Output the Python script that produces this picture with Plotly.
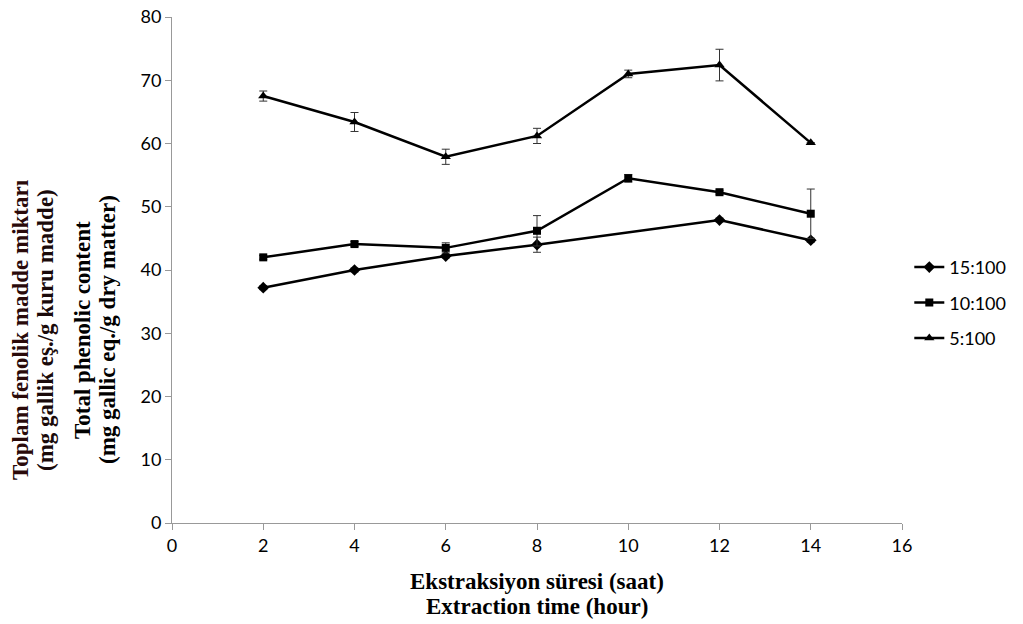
import plotly.graph_objects as go

x_time = [2, 4, 6, 8, 10, 12, 14]

# 15:100 (no point at 10 h)
x_15 = [2, 4, 6, 8, 12, 14]
y_15 = [37.2, 40.0, 42.2, 44.0, 47.9, 44.7]
e_15 = [0.3, 0.3, 0.3, 1.2, 0.3, 0.3]

y_10 = [42.0, 44.1, 43.5, 46.2, 54.5, 52.3, 48.9]
e_10 = [0.3, 0.4, 0.8, 2.4, 0.6, 0.3, 3.9]

y_5 = [67.5, 63.4, 57.9, 61.2, 71.0, 72.4, 60.1]
e_5 = [0.8, 1.5, 1.2, 1.2, 0.6, 2.5, 0.0]

names = ["15:100", "10:100", "5:100"]

x_ticks = [0, 2, 4, 6, 8, 10, 12, 14, 16]
y_ticks = [0, 10, 20, 30, 40, 50, 60, 70, 80]

fig = go.Figure()

series = [
    (x_15, y_15, e_15, names[0], "diamond", 9),
    (x_time, y_10, e_10, names[1], "square", 8),
    (x_time, y_5, e_5, names[2], "triangle-up", 9),
]
for xs, ys, es, nm, sym, sz in series:
    fig.add_trace(go.Scatter(
        x=xs, y=ys, name=nm, mode="lines+markers", legendgroup=nm,
        line=dict(color="black", width=2.5),
        marker=dict(symbol=sym, size=sz, color="black"),
        error_y=dict(type="data", array=es, visible=True,
                     color="#333333", thickness=1, width=4),
    ))

tick_font = dict(family="Lato, Carlito, Liberation Sans, sans-serif", size=18, color="black")
title_family = "Liberation Serif, Times New Roman, serif"

fig.update_layout(
    width=1023, height=624,
    margin=dict(l=172, r=121, t=17, b=101, autoexpand=False),
    plot_bgcolor="white", paper_bgcolor="white",
    showlegend=True,
    legend=dict(x=1.01, y=0.435, xanchor="left", yanchor="middle",
                font=tick_font, bgcolor="rgba(0,0,0,0)",
                itemwidth=30, tracegroupgap=9),
    xaxis=dict(range=[0, 16], tickvals=x_ticks, showgrid=False, zeroline=False,
               showline=True, linecolor="#999999", linewidth=1,
               ticks="outside", ticklen=6, tickcolor="#999999",
               tickfont=tick_font, automargin=False),
    yaxis=dict(range=[0, 80], tickvals=y_ticks, showgrid=False, zeroline=False,
               showline=True, linecolor="#999999", linewidth=1,
               ticks="outside", ticklen=6, tickcolor="#999999",
               tickfont=tick_font, automargin=False),
)

ann = [
    ("<b>Toplam fenolik madde miktarı</b>", 20, "#2a0a0a"),
    ("<b>(mg gallik eş./g kuru madde)</b>", 45, "#1a0a0a"),
    ("<b>Total phenolic content</b>", 82, "black"),
    ("<b>(mg gallic eq./g dry matter)</b>", 107, "black"),
]
for txt, px, col in ann:
    fig.add_annotation(text=txt, xref="paper", yref="paper",
                       x=(px - 172) / 730, y=(523 - 330) / 506,
                       xanchor="center", yanchor="middle",
                       textangle=-90, showarrow=False,
                       font=dict(family=title_family, size=23, color=col))

for txt, py in [("<b>Ekstraksiyon süresi (saat)</b>", 581), ("<b>Extraction time (hour)</b>", 606)]:
    fig.add_annotation(text=txt, xref="paper", yref="paper",
                       x=(537 - 172) / 730, y=(523 - py) / 506,
                       xanchor="center", yanchor="middle", showarrow=False,
                       font=dict(family=title_family, size=23, color="black"))

fig.write_html("out.html", config={"displayModeBar": False},
               post_script="document.body.style.margin='0';document.body.style.overflow='hidden';")
